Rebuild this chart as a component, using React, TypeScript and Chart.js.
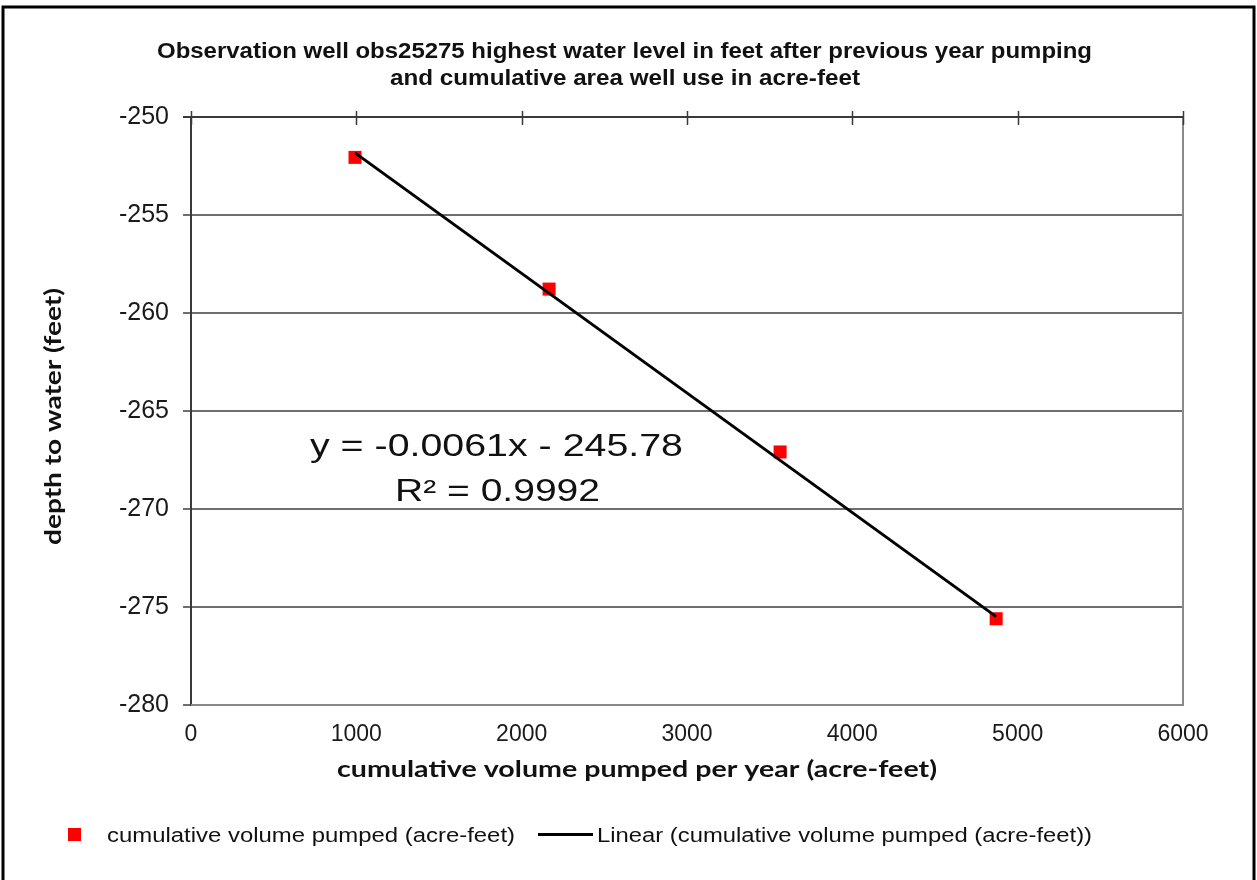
import React, { useEffect, useRef } from 'react';
import { Chart, registerables } from 'chart.js';

Chart.register(...registerables);

// ---- data ----
const volumes = [992, 2166, 3563, 4870];
const depths = [-252.06, -258.78, -267.09, -275.6];
const trendX = [992, 4870];
const trendY = [-251.83, -275.49];
const xTickValues = [0, 1000, 2000, 3000, 4000, 5000, 6000];
const yTickValues = [-250, -255, -260, -265, -270, -275, -280];

const titleLines = [
  'Observation well obs25275 highest water level in feet after previous year pumping',
  'and cumulative area well use in acre-feet',
];
const equationLines = ['y = -0.0061x - 245.78', 'R\u00B2 = 0.9992'];
const xTitle = 'cumulative volume pumped per year (acre-feet)';
const yTitle = 'depth to water (feet)';
const seriesLabel = 'cumulative volume pumped (acre-feet)';
const trendLabel = 'Linear (cumulative volume pumped (acre-feet))';

const ARIAL = '"Liberation Sans", Arial, sans-serif';
const CALIBRI = 'Lato, "Open Sans", sans-serif';

function drawFitted(
  ctx: CanvasRenderingContext2D,
  text: string,
  font: string,
  left: number,
  right: number,
  baseline: number,
  color = '#111'
) {
  ctx.save();
  ctx.font = font;
  ctx.fillStyle = color;
  ctx.textAlign = 'left';
  ctx.textBaseline = 'alphabetic';
  const w = ctx.measureText(text).width;
  const sx = (right - left) / w;
  ctx.translate(left, baseline);
  ctx.scale(sx, 1);
  ctx.fillText(text, 0, 0);
  ctx.restore();
}

const decorPlugin = {
  id: 'decor',
  beforeDraw(chart: any) {
    const ctx: CanvasRenderingContext2D = chart.ctx;
    ctx.save();
    ctx.fillStyle = '#ffffff';
    ctx.fillRect(0, 0, chart.width, chart.height);
    ctx.strokeStyle = '#000';
    ctx.lineWidth = 3;
    ctx.strokeRect(3, 7, 1251, 900);
    ctx.restore();
  },
  beforeDatasetsDraw(chart: any) {
    const ctx: CanvasRenderingContext2D = chart.ctx;
    const { left, right, top, bottom } = chart.chartArea;
    const xs = chart.scales.x;
    ctx.save();
    // plot area right & bottom border
    ctx.strokeStyle = '#8a8a8a';
    ctx.lineWidth = 2;
    ctx.beginPath();
    ctx.moveTo(right, top);
    ctx.lineTo(right, bottom);
    ctx.lineTo(left, bottom);
    ctx.stroke();
    // horizontal axis (crosses at top) with crossing tick marks
    ctx.strokeStyle = '#3a3a3a';
    ctx.lineWidth = 2;
    ctx.beginPath();
    ctx.moveTo(left - 8, top);
    ctx.lineTo(right, top);
    ctx.stroke();
    ctx.lineWidth = 1.5;
    ctx.beginPath();
    xTickValues.forEach((v) => {
      const px = Math.round(xs.getPixelForValue(v)) + 0.5;
      ctx.moveTo(px, top - 6);
      ctx.lineTo(px, top + 8);
    });
    ctx.stroke();
    ctx.restore();
  },
  afterDraw(chart: any) {
    const ctx: CanvasRenderingContext2D = chart.ctx;
    // title
    drawFitted(ctx, titleLines[0], `bold 22px ${ARIAL}`, 157, 1092, 58);
    drawFitted(ctx, titleLines[1], `bold 22px ${ARIAL}`, 390, 860, 85);
    // trendline equation
    drawFitted(ctx, equationLines[0], `31px ${ARIAL}`, 310, 683, 456);
    drawFitted(ctx, equationLines[1], `31px ${ARIAL}`, 395, 600, 501);
    // axis titles
    drawFitted(ctx, xTitle, `bold 22px ${CALIBRI}`, 337, 937, 777);
    ctx.save();
    ctx.translate(61, 545);
    ctx.rotate(-Math.PI / 2);
    drawFitted(ctx, yTitle, `bold 23px ${CALIBRI}`, 0, 257, 0);
    ctx.restore();
    // legend
    ctx.save();
    ctx.fillStyle = '#ff0000';
    ctx.fillRect(68, 828, 13, 13);
    ctx.strokeStyle = '#000';
    ctx.lineWidth = 3;
    ctx.beginPath();
    ctx.moveTo(538, 834.5);
    ctx.lineTo(593, 834.5);
    ctx.stroke();
    ctx.restore();
    drawFitted(ctx, seriesLabel, `20px ${ARIAL}`, 107, 515, 842);
    drawFitted(ctx, trendLabel, `20px ${ARIAL}`, 597, 1092, 842);
  },
};

export default function App() {
  const ref = useRef<HTMLCanvasElement | null>(null);

  useEffect(() => {
    document.body.style.margin = '0';
    const canvas = ref.current;
    if (!canvas) return;
    const chart = new Chart(canvas, {
      type: 'scatter',
      data: {
        datasets: [
          {
            label: trendLabel,
            type: 'line',
            data: trendX.map((x, i) => ({ x, y: trendY[i] })),
            borderColor: '#000000',
            borderWidth: 3,
            pointRadius: 0,
            showLine: true,
            fill: false,
            order: 0,
          } as any,
          {
            label: seriesLabel,
            data: volumes.map((x, i) => ({ x, y: depths[i] })),
            pointStyle: 'rect',
            pointRadius: 9.2,
            pointHoverRadius: 9.2,
            backgroundColor: '#ff0000',
            borderColor: '#ff0000',
            borderWidth: 0,
            showLine: false,
            order: 1,
          },
        ],
      },
      options: {
        responsive: false,
        maintainAspectRatio: false,
        devicePixelRatio: 1,
        animation: false,
        layout: { padding: { left: 0, top: 117, right: 74, bottom: 0 } },
        plugins: {
          legend: { display: false },
          title: { display: false },
          tooltip: { enabled: false },
        },
        scales: {
          x: {
            type: 'linear',
            position: 'bottom',
            min: 0,
            max: 6000,
            afterFit: (s: any) => {
              s.height = 175;
            },
            afterBuildTicks: (s: any) => {
              s.ticks = xTickValues.map((v) => ({ value: v }));
            },
            ticks: {
              font: { family: ARIAL, size: 23 },
              color: '#1a1a1a',
              padding: 16,
              maxRotation: 0,
              autoSkip: false,
              callback: (v: any) => String(v),
            },
            grid: { display: false, drawTicks: false },
            border: { display: false },
          },
          y: {
            type: 'linear',
            min: -280,
            max: -250,
            afterFit: (s: any) => {
              s.width = 191;
            },
            afterBuildTicks: (s: any) => {
              s.ticks = yTickValues.map((v) => ({ value: v }));
            },
            ticks: {
              font: { family: ARIAL, size: 25 },
              color: '#1a1a1a',
              padding: 14,
              autoSkip: false,
              callback: (v: any) => String(v),
            },
            grid: { color: '#6e6e6e', lineWidth: 2, tickLength: 8, drawTicks: true },
            border: { color: '#3a3a3a', width: 2 },
          },
        },
      },
      plugins: [decorPlugin],
    } as any);
    return () => chart.destroy();
  }, []);

  return <canvas ref={ref} width={1257} height={880} style={{ display: 'block' }} />;
}
